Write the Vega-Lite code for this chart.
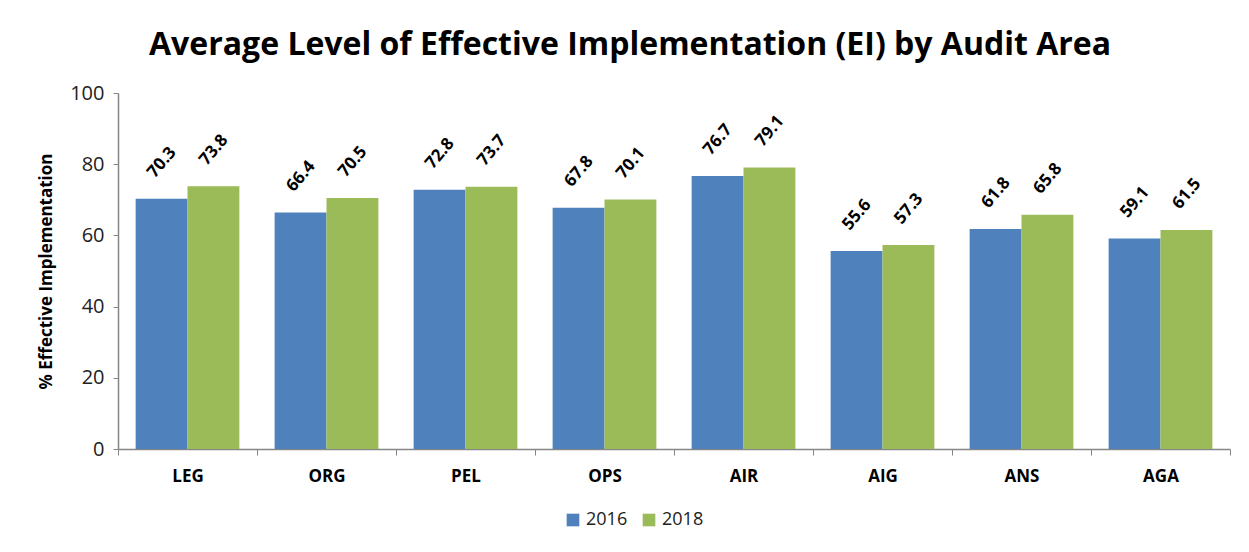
{
  "$schema": "https://vega.github.io/schema/vega-lite/v6.json",
  "autosize": "none",
  "width": 1112,
  "height": 356,
  "padding": {"left": 118, "top": 93, "right": 19, "bottom": 103},
  "background": "white",
  "title": {
    "text": "Average Level of Effective Implementation (EI) by Audit Area",
    "font": "Open Sans",
    "fontSize": 32,
    "fontWeight": "bold",
    "color": "#000000",
    "anchor": "middle",
    "dx": -44,
    "offset": 21
  },
  "data": {
    "values": [
      {"area": "LEG", "year": "2016", "value": 70.3},
      {"area": "LEG", "year": "2018", "value": 73.8},
      {"area": "ORG", "year": "2016", "value": 66.4},
      {"area": "ORG", "year": "2018", "value": 70.5},
      {"area": "PEL", "year": "2016", "value": 72.8},
      {"area": "PEL", "year": "2018", "value": 73.7},
      {"area": "OPS", "year": "2016", "value": 67.8},
      {"area": "OPS", "year": "2018", "value": 70.1},
      {"area": "AIR", "year": "2016", "value": 76.7},
      {"area": "AIR", "year": "2018", "value": 79.1},
      {"area": "AIG", "year": "2016", "value": 55.6},
      {"area": "AIG", "year": "2018", "value": 57.3},
      {"area": "ANS", "year": "2016", "value": 61.8},
      {"area": "ANS", "year": "2018", "value": 65.8},
      {"area": "AGA", "year": "2016", "value": 59.1},
      {"area": "AGA", "year": "2018", "value": 61.5}
    ]
  },
  "encoding": {
    "x": {
      "field": "area",
      "type": "nominal",
      "sort": ["LEG", "ORG", "PEL", "OPS", "AIR", "AIG", "ANS", "AGA"],
      "scale": {"paddingInner": 0, "paddingOuter": 0},
      "axis": {
        "title": null,
        "labelAngle": 0,
        "labelFont": "Open Sans",
        "labelFontSize": 17,
        "labelFontWeight": "bold",
        "labelColor": "#000000",
        "labelPadding": 13,
        "tickBand": "extent",
        "tickSize": 6,
        "tickColor": "#868686",
        "domainColor": "#868686",
        "domainWidth": 1.5,
        "grid": false
      }
    },
    "xOffset": {
      "field": "year",
      "type": "nominal",
      "scale": {"paddingInner": 0, "paddingOuter": 0.34}
    },
    "y": {
      "field": "value",
      "type": "quantitative",
      "scale": {"domain": [0, 100]},
      "axis": {
        "title": "% Effective Implementation",
        "titleFont": "Open Sans",
        "titleFontSize": 17,
        "titleFontWeight": "bold",
        "titleColor": "#000000",
        "titlePadding": 14,
        "values": [0, 20, 40, 60, 80, 100],
        "labelFont": "Open Sans",
        "labelFontSize": 20,
        "labelColor": "#222222",
        "labelPadding": 9,
        "tickSize": 5,
        "tickColor": "#868686",
        "domainColor": "#868686",
        "domainWidth": 1.5,
        "grid": false
      }
    }
  },
  "layer": [
    {
      "mark": {"type": "bar"},
      "encoding": {
        "color": {
          "field": "year",
          "type": "nominal",
          "scale": {"domain": ["2016", "2018"], "range": ["#4F81BD", "#9BBB59"]},
          "legend": {
            "title": null,
            "orient": "none",
            "direction": "horizontal",
            "legendX": 446,
            "legendY": 418,
            "symbolType": "square",
            "symbolSize": 160,
            "symbolStrokeWidth": 0,
            "labelFont": "Open Sans",
            "labelFontSize": 18,
            "labelColor": "#222222",
            "columnPadding": 12
          }
        }
      }
    },
    {
      "mark": {
        "type": "text",
        "angle": -50,
        "align": "center",
        "baseline": "middle",
        "dx": 28,
        "dy": -23,
        "font": "Open Sans",
        "fontSize": 17,
        "fontWeight": "bold",
        "color": "#000000"
      },
      "encoding": {
        "text": {"field": "value", "type": "quantitative", "format": ".1f"}
      }
    }
  ],
  "config": {"view": {"stroke": null}}
}
